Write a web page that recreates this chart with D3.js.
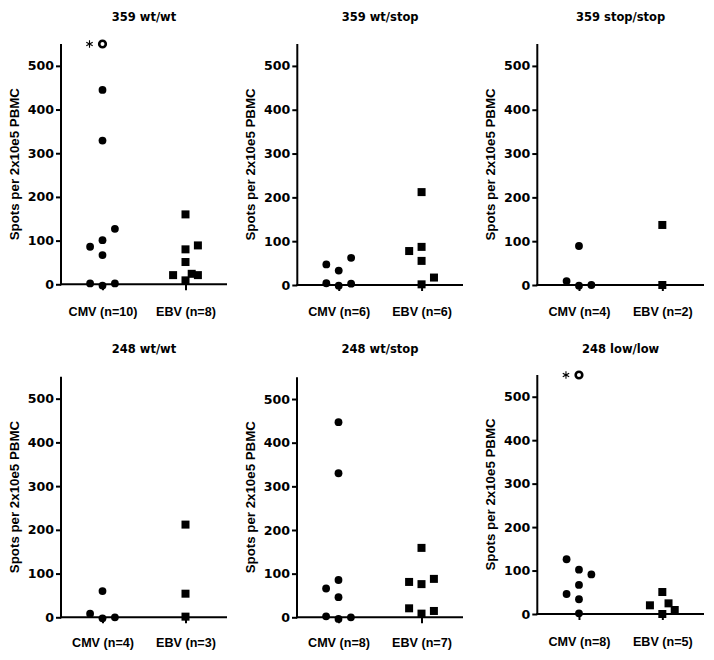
<!DOCTYPE html>
<html><head><meta charset="utf-8">
<script src="https://cdn.jsdelivr.net/npm/d3@7"></script>
<style>
body{margin:0;background:#fff;}
text{font-weight:bold;fill:#000;}
</style></head>
<body><svg id="c" width="714" height="660"></svg>
<script>
// ---- data ----
const titles = ["359 wt/wt","359 wt/stop","359 stop/stop","248 wt/wt","248 wt/stop","248 low/low"];
const categories = ["CMV","EBV"];
const xTickLabels = [
  ["CMV (n=10)","EBV (n=8)"],
  ["CMV (n=6)","EBV (n=6)"],
  ["CMV (n=4)","EBV (n=2)"],
  ["CMV (n=4)","EBV (n=3)"],
  ["CMV (n=8)","EBV (n=7)"],
  ["CMV (n=8)","EBV (n=5)"]
];
const yTicks = [0,100,200,300,400,500];
const yLabel = "Spots per 2x10e5 PBMC";
// CMV values per panel
const cmvValues = [
  [550,445,329,127,101,86,67,2,-3,2],
  [47,62,33,4,-1.5,3],
  [89,9,-1.5,0],
  [60,8.4,-2.3,0],
  [447,330,85.5,66,46,2.3,-3.8,0],
  [550,126,102,91,67,46,34,1.5]
];
// column slot of each CMV dot within its group (dot-plot arrangement)
const cmvSlots = [
  [0,0,0,1,0,-1,0,-1,0,1],
  [-1,1,0,-1,0,1],
  [0,-1,0,1],
  [0,-1,0,1],
  [0,0,0,-1,0,-1,0,1],
  [0,-1,0,1,0,-1,0,0]
];
// off-scale CMV values (open circle with asterisk): index into cmvValues, or -1
const cmvOffScale = [0,-1,-1,-1,-1,0];
// EBV values per panel
const ebvValues = [
  [160,89,80,51,21,24,21,9],
  [212,77.5,87,55,17,1.5],
  [137,0],
  [212,54,1.5],
  [159,81,76,88,20.6,14.5,8.4],
  [50.6,20,24.5,9.2,0]
];
const ebvSlots = [
  [0,1,0,0,-1,0.5,1,0],
  [0,-1,0,0,1,0],
  [0,0],
  [0,0,0],
  [0,-1,0,1,-1,1,0],
  [0,-1,0.5,1,0]
];

// ---- layout ----
const layout = [
  {left:61,  right:227, y0:284.3, yTop:44.0, titleY:21,  labY:316},
  {left:297.3,right:463,y0:285,   yTop:44.0, titleY:21,  labY:316},
  {left:537.3,right:704,y0:285,   yTop:44.0, titleY:21,  labY:316},
  {left:61,  right:227, y0:617.3, yTop:376.8,titleY:353, labY:647},
  {left:297, right:463, y0:617.3, yTop:377.2,titleY:353, labY:647},
  {left:537.3,right:704,y0:614,   yTop:375.0,titleY:353, labY:646}
];
const slotW = 12.4;
const fArial = "Liberation Sans, Arial, sans-serif";
const fWide = "DejaVu Sans, Verdana, sans-serif";

const svg = d3.select("#c");

titles.forEach((t,i)=>{
  const L = layout[i];
  const g = svg.append("g");
  const x = d3.scalePoint().domain(categories).range([L.left,L.right]).padding(0.5);
  const y = d3.scaleLinear().domain([0,550]).range([L.y0,L.yTop]);

  // title
  g.append("text").attr("x",(L.left+L.right)/2).attr("y",L.titleY)
    .attr("text-anchor","middle").attr("font-family",fWide).attr("font-size",11.5).text(t);

  // y axis
  const ya = g.append("g").attr("transform",`translate(${L.left},0)`)
    .call(d3.axisLeft(y).tickValues(yTicks).tickSize(5).tickPadding(2).tickFormat(d3.format("d")));
  ya.attr("font-family",fWide).attr("font-size",12.6);
  ya.select(".domain").attr("stroke","#000").attr("stroke-width",2)
    .attr("d",`M0,${L.y0+1}V${L.yTop}`);
  ya.selectAll(".tick line").attr("stroke","#000").attr("stroke-width",2);
  ya.selectAll(".tick text").attr("font-weight","bold");

  // x axis
  const xa = g.append("g").attr("transform",`translate(0,${L.y0})`)
    .call(d3.axisBottom(x).tickSize(6).tickFormat((d,j)=>xTickLabels[i][j]));
  xa.attr("font-family",fArial).attr("font-size",12.6);
  xa.select(".domain").attr("stroke","#000").attr("stroke-width",2)
    .attr("d",`M${L.left-1},0H${L.right}`);
  xa.selectAll(".tick line").attr("stroke","#000").attr("stroke-width",2);
  xa.selectAll(".tick text").attr("font-weight","bold").attr("y",L.labY-L.y0).attr("dy",0);

  // y label
  g.append("text").attr("transform",`translate(${L.left-47},${(L.y0+L.yTop)/2}) rotate(-90)`)
    .attr("text-anchor","middle").attr("dy","0.35em").attr("font-family",fArial).attr("font-size",13.3).text(yLabel);

  // CMV dots
  const cmv = cmvValues[i].map((v,k)=>({v,s:cmvSlots[i][k],off:k===cmvOffScale[i]}));
  g.selectAll("circle.cmv").data(cmv.filter(d=>!d.off)).join("circle")
    .attr("class","cmv")
    .attr("cx",d=>x("CMV")+d.s*slotW).attr("cy",d=>y(d.v)).attr("r",3.9).attr("fill","#000");
  const off = cmv.filter(d=>d.off);
  g.selectAll("circle.off").data(off).join("circle").attr("class","off")
    .attr("cx",d=>x("CMV")+d.s*slotW).attr("cy",d=>y(d.v)).attr("r",3.3)
    .attr("fill","#fff").attr("stroke","#000").attr("stroke-width",2.6);
  g.selectAll("path.ast").data(off).join("path").attr("class","ast")
    .attr("transform",d=>`translate(${x("CMV")+d.s*slotW-13},${y(d.v)})`)
    .attr("d",d3.symbol(d3.symbolAsterisk,38)).attr("fill","none").attr("stroke","#000").attr("stroke-width",1.1);

  // EBV squares
  const ebv = ebvValues[i].map((v,k)=>({v,s:ebvSlots[i][k]}));
  const sq = 8;
  g.selectAll("rect.ebv").data(ebv).join("rect").attr("class","ebv")
    .attr("x",d=>x("EBV")+d.s*slotW-sq/2).attr("y",d=>y(d.v)-sq/2)
    .attr("width",sq).attr("height",sq).attr("fill","#000");
});
</script></body></html>
